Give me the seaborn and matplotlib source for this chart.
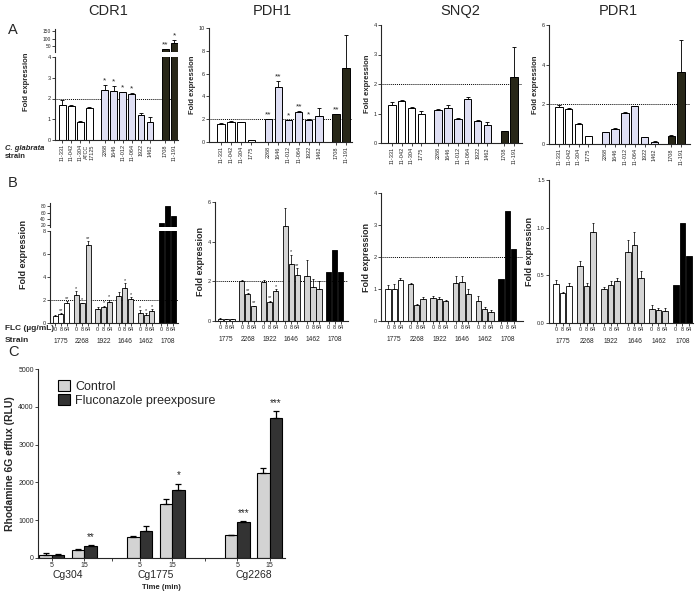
import numpy as np
import pandas as pd
import matplotlib.pyplot as plt
import seaborn as sns

# ---------------- data ----------------
# panel A: basal fold expression per strain
strains_a_cdr1 = ["11-331", "11-042", "11-304", "ATCC\n17125", "2268", "1646",
                  "11-012", "11-064", "1922", "1462", "1708", "11-191"]
strains_a = ["11-331", "11-042", "11-304", "1775", "2268", "1646",
             "11-012", "11-064", "1922", "1462", "1708", "11-191"]
kind_a = ["susc"] * 4 + ["sdd"] * 6 + ["res"] * 2

cdr1_a = [1.7, 1.65, 0.88, 1.52, 2.43, 2.37, 2.3, 2.2, 1.2, 0.87, 28, 68]
cdr1_a_err = [0.25, 0.03, 0.03, 0.05, 0.22, 0.22, 0.03, 0.08, 0.08, 0.22, 3, 22]
cdr1_a_sig = ["", "", "", "", "*", "*", "*", "*", "", "", "**", "*"]

pdh1_a = [1.6, 1.75, 1.75, 0.15, 2.0, 4.85, 1.9, 2.6, 1.95, 2.25, 2.45, 6.5]
pdh1_a_err = [0.05, 0.05, 0.03, 0.02, 0.04, 0.5, 0.03, 0.1, 0.05, 0.7, 0.05, 2.9]
pdh1_a_sig = ["", "", "", "", "**", "**", "*", "**", "*", "", "**", ""]

snq2_a = [1.28, 1.42, 1.2, 1.0, 1.13, 1.2, 0.83, 1.48, 0.75, 0.62, 0.4, 2.25]
snq2_a_err = [0.1, 0.03, 0.02, 0.07, 0.02, 0.1, 0.02, 0.07, 0.04, 0.1, 0.02, 1.0]

pdr1_a = [1.85, 1.75, 1.0, 0.38, 0.6, 0.75, 1.58, 1.9, 0.33, 0.12, 0.4, 3.65]
pdr1_a_err = [0.1, 0.05, 0.05, 0.02, 0.03, 0.08, 0.02, 0.03, 0.02, 0.03, 0.03, 1.6]

# panel B: fold expression after FLC exposure (0, 8, 64 ug/mL)
strains_b = ["1775", "2268", "1922", "1646", "1462", "1708"]
flc_doses = ["0", "8", "64"]
kind_b = ["susc"] * 3 + ["sdd"] * 12 + ["res"] * 3

cdr1_b = [0.65, 0.8, 1.75, 2.45, 1.7, 6.8, 1.25, 1.4, 1.8,
          2.35, 3.05, 2.05, 0.85, 0.7, 1.05, 28, 82, 48]
cdr1_b_err = [0.05, 0.05, 0.15, 0.3, 0.08, 0.3, 0.1, 0.1, 0.2,
              0.35, 0.4, 0.2, 0.25, 0.15, 0.15, None, None, None]
cdr1_b_sig = ["", "**", "**", "*", "*", "**", "", "*", "*",
              "", "*", "*", "*", "*", "*", "", "", ""]

pdh1_b = [0.12, 0.08, 0.1, 2.0, 1.35, 0.75, 1.95, 0.98, 1.5,
          4.8, 2.85, 2.3, 2.25, 1.7, 1.6, 2.45, 3.6, 2.45]
pdh1_b_err = [0.02, 0.01, 0.01, 0.05, 0.05, 0.03, 0.1, 0.05, 0.1,
              0.9, 0.5, 0.35, 0.85, 0.4, 0.4, None, None, None]
pdh1_b_sig = ["", "", "", "", "**", "**", "", "**", "*",
              "", "*", "**", "", "", "", "", "", ""]

snq2_b = [1.0, 1.0, 1.27, 1.15, 0.5, 0.7, 0.73, 0.68, 0.63,
          1.2, 1.22, 0.85, 0.62, 0.38, 0.27, 1.3, 3.45, 2.25]
snq2_b_err = [0.12, 0.15, 0.08, 0.05, 0.02, 0.05, 0.04, 0.07, 0.04,
              0.2, 0.18, 0.15, 0.15, 0.06, 0.06, None, None, None]

pdr1_b = [0.41, 0.31, 0.39, 0.6, 0.39, 0.95, 0.36, 0.4, 0.44,
          0.75, 0.82, 0.47, 0.15, 0.14, 0.13, 0.4, 1.05, 0.7]
pdr1_b_err = [0.04, 0.02, 0.03, 0.05, 0.03, 0.1, 0.02, 0.04, 0.03,
              0.12, 0.13, 0.08, 0.04, 0.02, 0.03, None, None, None]

# panel C: rhodamine 6G efflux
efflux_strains = ["Cg304", "Cg1775", "Cg2268"]
efflux_times = ["5", "15"]
treatments = ["Control", "Fluconazole preexposure"]
efflux_control = [80, 210, 560, 1440, 600, 2250]
efflux_control_err = [40, 30, 30, 130, 20, 120]
efflux_fluco = [75, 310, 720, 1800, 950, 3700]
efflux_fluco_err = [20, 40, 130, 170, 30, 180]
efflux_sig = ["", "**", "", "*", "***", "***"]

# ---------------- style ----------------
sns.set_theme(style="ticks")
plt.rcParams["font.family"] = ["Liberation Sans", "DejaVu Sans"]
plt.rcParams.update({
    "axes.linewidth": 0.8,
    "xtick.major.width": 0.6, "ytick.major.width": 0.6,
    "xtick.major.size": 2, "ytick.major.size": 2,
})

W, H = 696, 593
fig = plt.figure(figsize=(W / 100, H / 100), dpi=100)

pal_a = {"susc": "#ffffff", "sdd": "#dcdcf7", "res": "#2a2916"}
pal_b = {"susc": "#ffffff", "sdd": "#d4d4d4", "res": "#000000"}


def box(x0, y0, x1, y1):
    return fig.add_axes([x0 / W, 1 - y1 / H, (x1 - x0) / W, (y1 - y0) / H])


def draw_bars(ax, pos, vals, errs, kinds, palette, width, lw=0.7, cap=1.2):
    df = pd.DataFrame({"pos": pos, "val": vals, "kind": kinds})
    sns.barplot(data=df, x="pos", y="val", hue="kind", palette=palette,
                native_scale=True, dodge=False, width=width, errorbar=None,
                edgecolor="black", linewidth=lw, legend=False, ax=ax)
    e = np.array([np.nan if v is None else v for v in errs], dtype=float)
    m = ~np.isnan(e)
    if m.any():
        ax.errorbar(np.array(pos)[m], np.array(vals)[m],
                    yerr=[np.zeros(m.sum()), e[m]], fmt="none", ecolor="black",
                    elinewidth=lw * 0.9, capsize=cap, capthick=lw * 0.9)
    ax.set_xlabel("")
    ax.set_ylabel("")
    sns.despine(ax=ax)


def add_stars(ax, pos, vals, errs, sig, size, gap):
    for p, v, e, s in zip(pos, vals, errs, sig):
        if s:
            ax.text(p, v + (e or 0) + gap, s, ha="center", va="bottom",
                    fontsize=size)


def style_ticks(ax, size=4):
    ax.tick_params(labelsize=size, pad=1, length=2)


# positions: groups with gaps
pos_a = [0, 1, 2, 3, 4.7, 5.7, 6.7, 7.7, 8.7, 9.7, 11.4, 12.4]
pos_b = [g * 3.6 + i for g in range(6) for i in range(3)]
grp_b_centres = [g * 3.6 + 1 for g in range(6)]


def panel_a(ax, vals, errs, yticks, labels):
    draw_bars(ax, pos_a, vals, errs, kind_a, pal_a, 0.75)
    ax.axhline(2, color="black", lw=0.7, ls=(0, (1, 1)), zorder=0)
    ax.set_ylim(yticks[0], yticks[-1])
    ax.set_yticks(yticks)
    ax.set_xticks(pos_a)
    ax.set_xticklabels(labels, rotation=90, fontsize=4.3)
    style_ticks(ax)
    ax.set_ylabel("Fold expression", fontsize=5.5, fontweight="bold", labelpad=2)


def panel_b(ax, vals, errs, yticks, line=True):
    draw_bars(ax, pos_b, vals, errs, kind_b, pal_b, 0.85, lw=0.6, cap=1)
    if line:
        ax.axhline(2, color="black", lw=0.7, ls=(0, (1, 1)), zorder=0)
    ax.set_ylim(yticks[0], yticks[-1])
    ax.set_yticks(yticks)
    ax.set_xticks(pos_b)
    ax.set_xticklabels(flc_doses * 6, fontsize=4.3)
    style_ticks(ax)
    for c, s in zip(grp_b_centres, strains_b):
        ax.annotate(s, xy=(c, 0), xycoords=("data", "axes fraction"),
                    xytext=(0, -10.5), textcoords="offset points",
                    ha="center", va="top", fontsize=4.8)
    ax.set_ylabel("Fold expression", fontsize=6.5, fontweight="bold", labelpad=2)


# ---------------- panel A ----------------
cdr1_main_err = [e if v < 4 else None for v, e in zip(cdr1_a, cdr1_a_err)]
cdr1_top_err = [e if v >= 4 else None for v, e in zip(cdr1_a, cdr1_a_err)]

ax = box(55, 57, 178, 140)
panel_a(ax, cdr1_a, cdr1_main_err, [0, 1, 2, 3, 4], strains_a_cdr1)
ax.set_xlim(-0.8, 12.8)
add_stars(ax, pos_a[:10], cdr1_a[:10], cdr1_main_err[:10], cdr1_a_sig[:10], 6, 0.02)
ax.yaxis.set_label_coords(-0.2, 0.7)
axt = box(55, 29, 178, 52)
draw_bars(axt, pos_a, cdr1_a, cdr1_top_err, kind_a, pal_a, 0.75)
axt.set_ylim(10, 165)
axt.set_yticks([50, 100, 150])
axt.set_xlim(-0.8, 12.8)
axt.spines["bottom"].set_visible(False)
axt.set_xticks([])
style_ticks(axt, 3.5)
add_stars(axt, pos_a[10:], cdr1_a[10:], cdr1_top_err[10:], cdr1_a_sig[10:], 6, 2)
fig.text(5 / W, 1 - 148 / H, "C. glabrata", fontsize=5.5, fontstyle="italic",
         fontweight="bold", va="center")
fig.text(5 / W, 1 - 157 / H, "strain", fontsize=5.5, fontweight="bold", va="center")

ax = box(209, 28, 352, 142)
panel_a(ax, pdh1_a, pdh1_a_err, [0, 2, 4, 6, 8, 10], strains_a)
ax.set_xlim(-1.2, 13.0)
add_stars(ax, pos_a, pdh1_a, pdh1_a_err, pdh1_a_sig, 6, 0.05)

ax = box(381, 25, 522, 143)
panel_a(ax, snq2_a, snq2_a_err, [0, 1, 2, 3, 4], strains_a)
ax.set_xlim(-1.1, 13.2)

ax = box(549, 25, 690, 144)
panel_a(ax, pdr1_a, pdr1_a_err, [0, 2, 4, 6], strains_a)
ax.set_xlim(-1.0, 13.3)

# ---------------- panel B ----------------
cdr1_b_main_err = [e if v < 8 else None for v, e in zip(cdr1_b, cdr1_b_err)]
ax = box(50, 231, 178, 323)
panel_b(ax, cdr1_b, cdr1_b_main_err, [0, 2, 4, 6, 8])
ax.set_xlim(-0.85, 20.8)
add_stars(ax, pos_b, cdr1_b, cdr1_b_main_err, cdr1_b_sig, 4, 0.05)
ax.yaxis.set_label_coords(-0.17, 0.75)
axt = box(50, 203, 178, 227)
draw_bars(axt, pos_b, cdr1_b, [None] * 18, kind_b, pal_b, 0.85, lw=0.6)
axt.set_ylim(15, 90)
axt.set_yticks([20, 40, 60, 80])
axt.set_xlim(-0.85, 20.8)
axt.spines["bottom"].set_visible(False)
axt.set_xticks([])
style_ticks(axt, 3.5)
fig.text(5 / W, 1 - 329 / H, "FLC (\u00b5g/mL)", fontsize=6, fontweight="bold", va="center")
fig.text(5 / W, 1 - 340 / H, "Strain", fontsize=6, fontweight="bold", va="center")

ax = box(215, 202, 348, 321)
panel_b(ax, pdh1_b, pdh1_b_err, [0, 2, 4, 6])
ax.set_xlim(-0.85, 21.2)
add_stars(ax, pos_b, pdh1_b, pdh1_b_err, pdh1_b_sig, 4, 0.03)

ax = box(381, 193, 523, 321)
panel_b(ax, snq2_b, snq2_b_err, [0, 1, 2, 3, 4])
ax.set_xlim(-1.1, 21.5)

ax = box(549, 180, 693, 323)
panel_b(ax, pdr1_b, pdr1_b_err, [0.0, 0.5, 1.0, 1.5], line=False)
ax.set_yticklabels(["0.0", "0.5", "1.0", "1.5"])
ax.set_xlim(-1.05, 20.6)

# ---------------- panel C ----------------
pos_c = [0, 1, 2.7, 3.7, 5.7, 6.7]
dfc = pd.DataFrame({
    "pos": pos_c * 2,
    "val": efflux_control + efflux_fluco,
    "treat": [treatments[0]] * 6 + [treatments[1]] * 6,
})
ax = box(38, 369, 285, 558)
sns.barplot(data=dfc, x="pos", y="val", hue="treat", native_scale=True,
            palette=["#d3d3d3", "#333333"], width=0.77, errorbar=None,
            edgecolor="black", linewidth=0.8, ax=ax)
hw = 0.77 / 4
ax.errorbar(np.array(pos_c) - hw, efflux_control, yerr=[[0] * 6, efflux_control_err],
            fmt="none", ecolor="black", elinewidth=0.9, capsize=2.5, capthick=0.9)
ax.errorbar(np.array(pos_c) + hw, efflux_fluco, yerr=[[0] * 6, efflux_fluco_err],
            fmt="none", ecolor="black", elinewidth=0.9, capsize=2.5, capthick=0.9)
for p, v, e, s in zip(pos_c, efflux_fluco, efflux_fluco_err, efflux_sig):
    if s:
        ax.text(p + hw, v + e + 80, s, ha="center", va="bottom", fontsize=7)
ax.set_xlim(-0.43, 7.17)
ax.set_ylim(0, 5000)
ax.set_yticks([0, 1000, 2000, 3000, 4000, 5000])
ax.set_xticks(pos_c)
ax.set_xticklabels(efflux_times * 3)
ax.set_xticks([1.85, 4.7], minor=True)
ax.tick_params(which="minor", length=2, width=0.6)
style_ticks(ax, 5)
for i, s in enumerate(efflux_strains):
    c = (pos_c[2 * i] + pos_c[2 * i + 1]) / 2
    ax.annotate(s, xy=(c, 0), xycoords=("data", "axes fraction"),
                xytext=(0, -8.5), textcoords="offset points",
                ha="center", va="top", fontsize=7.5)
ax.set_xlabel("Time (min)", fontsize=5.5, fontweight="bold", labelpad=11)
ax.set_ylabel("Rhodamine 6G efflux (RLU)", fontsize=7.5, fontweight="bold", labelpad=2)
sns.despine(ax=ax)
sns.move_legend(ax, "upper left", bbox_to_anchor=(0.06, 0.97), frameon=False,
                title=None, fontsize=9, handlelength=1.0, handleheight=1.0,
                labelspacing=0.1, handletextpad=0.4, borderaxespad=0)
for patch in ax.get_legend().get_patches():
    patch.set_edgecolor("black")

# ---------------- titles and panel letters ----------------
for x, t in [(108, "CDR1"), (272, "PDH1"), (460, "SNQ2"), (618, "PDR1")]:
    fig.text(x / W, 1 - 11 / H, t, ha="center", va="center", fontsize=10.5)
for y, t in [(30, "A"), (183, "B"), (352, "C")]:
    fig.text(8 / W, 1 - y / H, t, ha="left", va="center", fontsize=10.5)

fig.savefig("out.png", dpi=100)
